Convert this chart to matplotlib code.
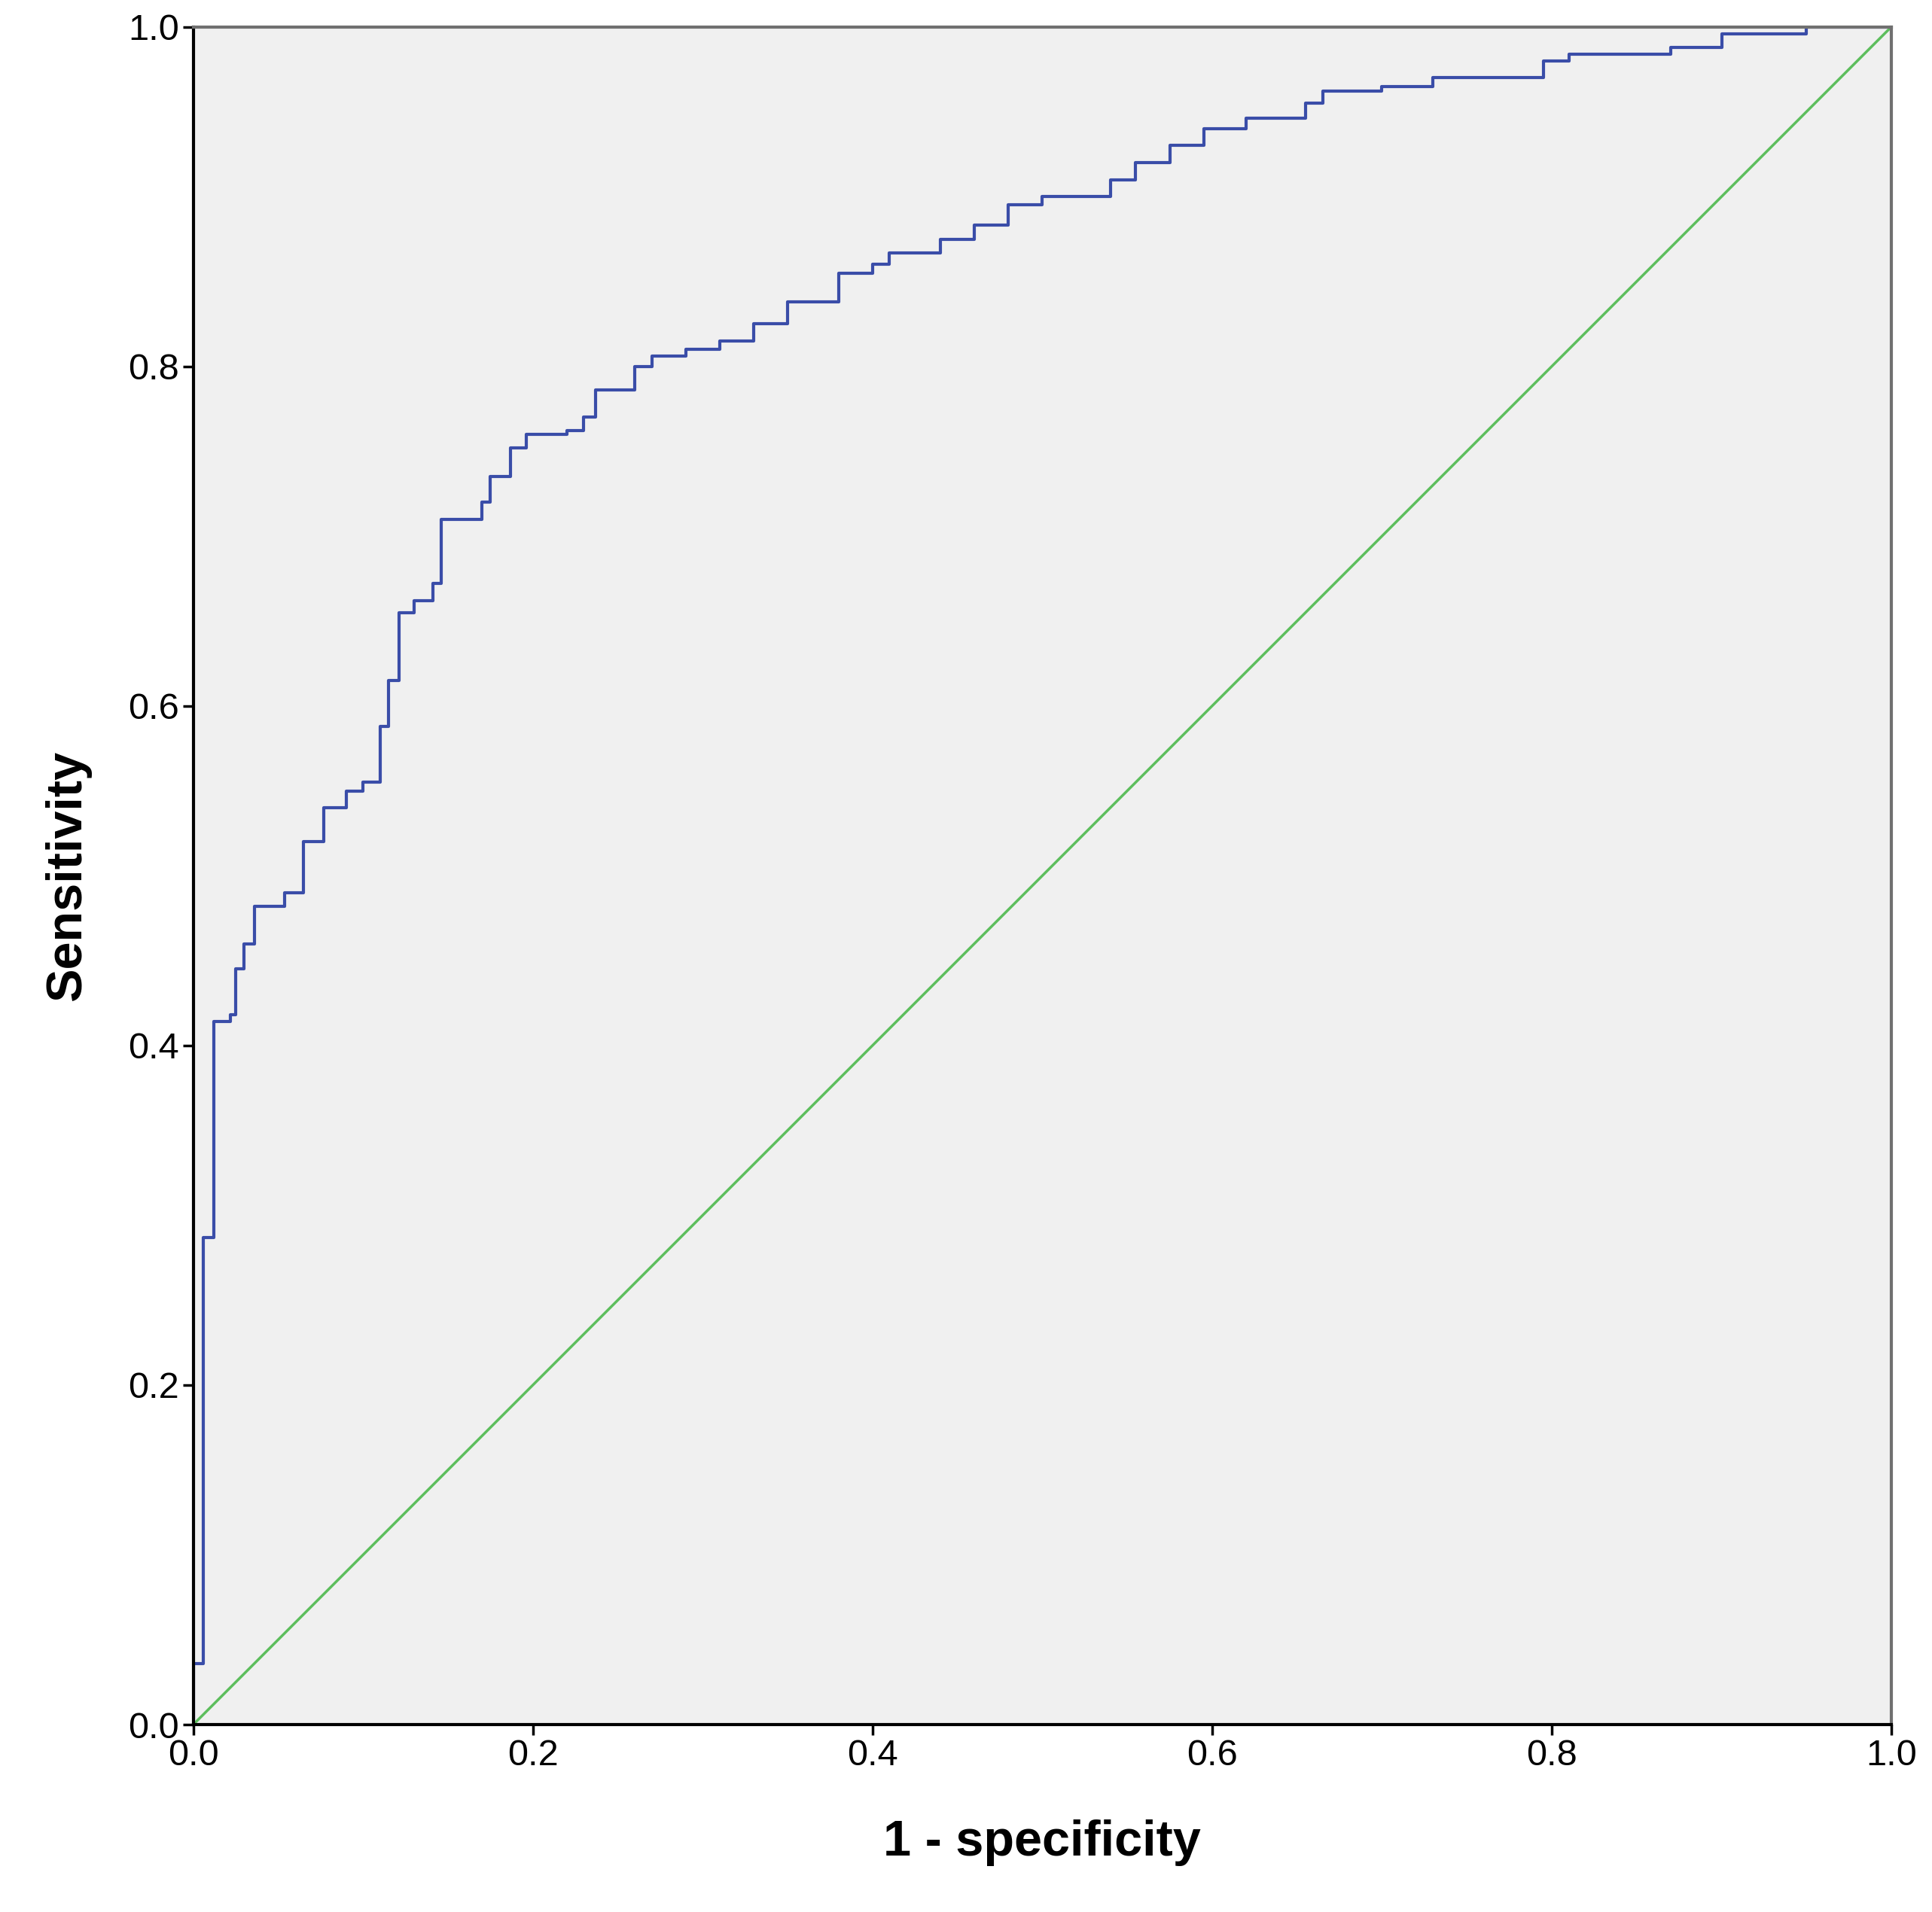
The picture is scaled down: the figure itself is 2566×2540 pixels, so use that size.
import matplotlib
matplotlib.use("Agg")
import matplotlib.pyplot as plt

plt.rcParams['font.family'] = ['Liberation Sans', 'DejaVu Sans']

fpr = [0.0, 0.0, 0.006, 0.012, 0.022, 0.025, 0.03, 0.036, 0.054, 0.065, 0.077, 0.09, 0.10,
       0.11, 0.115, 0.121, 0.13, 0.141, 0.146, 0.17, 0.175, 0.187, 0.196, 0.22, 0.23, 0.237,
       0.26, 0.27, 0.29, 0.31, 0.33, 0.35, 0.38, 0.40, 0.41, 0.44, 0.46, 0.48, 0.50, 0.54,
       0.555, 0.575, 0.595, 0.62, 0.655, 0.665, 0.70, 0.73, 0.795, 0.81, 0.87, 0.90, 0.95, 1.0]
tpr = [0.0, 0.036, 0.287, 0.414, 0.418, 0.445, 0.46, 0.482, 0.49, 0.52, 0.54, 0.55, 0.555,
       0.588, 0.615, 0.655, 0.662, 0.672, 0.71, 0.72, 0.735, 0.752, 0.76, 0.762, 0.77, 0.786,
       0.80, 0.806, 0.81, 0.815, 0.825, 0.838, 0.855, 0.86, 0.867, 0.875, 0.883, 0.895, 0.90, 0.91,
       0.92, 0.93, 0.94, 0.946, 0.955, 0.962, 0.965, 0.97, 0.98, 0.984, 0.988, 0.996, 1.0, 1.0]
ticks = [0.0, 0.2, 0.4, 0.6, 0.8, 1.0]

fig = plt.figure(figsize=(25.66, 25.40), dpi=100)
ax = fig.add_axes([0.100, 0.098, 0.879, 0.888])
ax.set_facecolor("#F0F0F0")
ax.plot(fpr, tpr, drawstyle="steps-post", color="#3A4DA8", lw=3)
ax.plot([0, 1], [0, 1], color="#5DBE5D", lw=2.5)
ax.set_xlim(0, 1)
ax.set_ylim(0, 1)
ax.set_xticks(ticks)
ax.set_yticks(ticks)
ax.set_xticklabels([f"{t:.1f}" for t in ticks])
ax.set_yticklabels([f"{t:.1f}" for t in ticks])
ax.tick_params(labelsize=35, length=10, width=2.5)
for s in ax.spines.values():
    s.set_linewidth(3)
ax.spines["top"].set_color("#707070")
ax.spines["right"].set_color("#707070")
ax.set_xlabel("1 - specificity", fontsize=48, fontweight="bold", labelpad=45)
ax.set_ylabel("Sensitivity", fontsize=48, fontweight="bold", labelpad=35)
fig.savefig("out.png", dpi=100)
